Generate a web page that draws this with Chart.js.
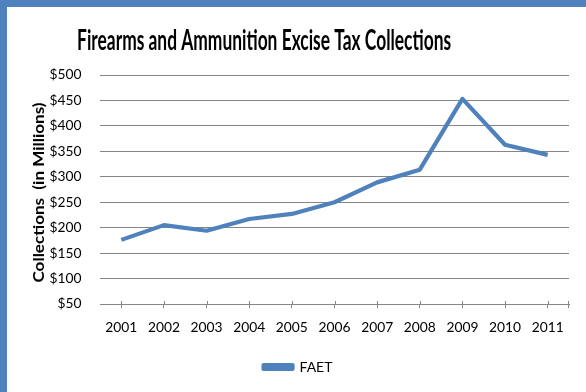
<!DOCTYPE html>
<html>
<head>
<meta charset="utf-8">
<script src="https://cdn.jsdelivr.net/npm/chart.js@4/dist/chart.umd.min.js"></script>
<style>
    html, body { margin: 0; padding: 0; }
    body { width: 586px; height: 392px; background: #4F81BD; position: relative; overflow: hidden; }
    #frame { position: absolute; left: 7px; top: 7px; width: 579px; height: 385px; background: #fff; }
    canvas { display: block; }
</style>
</head>
<body>
<div id="frame"><canvas id="faetChart" width="579" height="385"></canvas></div>
<script>
    var years = ['2001', '2002', '2003', '2004', '2005', '2006', '2007', '2008', '2009', '2010', '2011'];
    var faet = [176, 205, 194, 217, 227, 250, 289, 314, 453, 363, 343];
    var yMin = 50, yMax = 500, yStep = 50;

    var chartTitle = 'Firearms and Ammunition Excise Tax Collections';
    var yTitle = 'Collections  (in Millions)';
    var seriesName = 'FAET';

    var lineBlue = '#4F81BD';
    var gridGrey = '#858585';
    var face = 'Lato, "Open Sans", "Liberation Sans", sans-serif';
    var CAP = 0.717; // cap height / em for Lato

    // bold text sized by cap height, then squeezed along its run to a fixed length
    var fitText = function (ctx, text, capPx, runPx, x, baseY, angle) {
        var size = capPx / CAP;
        ctx.save();
        ctx.font = 'bold ' + size + 'px ' + face;
        var w = ctx.measureText(text).width;
        ctx.translate(x, baseY);
        ctx.rotate(angle);
        ctx.scale(runPx / w, 1);
        ctx.fillStyle = '#000';
        ctx.textAlign = 'center';
        ctx.textBaseline = 'alphabetic';
        ctx.fillText(text, 0, 0);
        ctx.restore();
    };

    var titles = {
        id: 'titles',
        afterDraw: function (chart) {
            var ctx = chart.ctx;
            var area = chart.chartArea;
            fitText(ctx, chartTitle, 20.5, 374, chart.width * 0.444, 43, 0);
            // axis title reads bottom-to-top, baseline on the right
            fitText(ctx, yTitle, 11.3, 180, 37, (area.top + area.bottom) / 2 + 3, -Math.PI / 2);
        }
    };

    // cross tick marks on the category axis (upper half + closing tick)
    var crossTicks = {
        id: 'crossTicks',
        afterDraw: function (chart) {
            var ctx = chart.ctx;
            var xs = chart.scales.x;
            var bottom = chart.chartArea.bottom;
            ctx.save();
            ctx.strokeStyle = gridGrey;
            ctx.lineWidth = 1;
            ctx.beginPath();
            for (var i = 0, l = xs.ticks.length; i < l; ++i) {
                var px = Math.round(xs.getPixelForTick(i)) + 0.5;
                ctx.moveTo(px, bottom - 3);
                ctx.lineTo(px, bottom);
            }
            var endX = Math.round(chart.chartArea.right) - 0.5;
            ctx.moveTo(endX, bottom - 3);
            ctx.lineTo(endX, bottom + 4);
            ctx.stroke();
            ctx.restore();
        }
    };

    new Chart(document.getElementById('faetChart'), {
        type: 'line',
        data: {
            labels: years,
            datasets: [{
                label: seriesName,
                data: faet,
                borderColor: lineBlue,
                backgroundColor: lineBlue,
                borderWidth: 4.2,
                borderJoinStyle: 'round',
                borderCapStyle: 'butt',
                pointRadius: 0,
                pointHoverRadius: 0,
                tension: 0,
                fill: false
            }]
        },
        options: {
            responsive: false,
            animation: false,
            // left padding only re-centres the legend; the y axis box is narrowed to match
            layout: { padding: { top: 68, right: 17, bottom: 8, left: 20 } },
            plugins: {
                title: { display: false },
                tooltip: { enabled: false },
                legend: {
                    position: 'bottom',
                    labels: {
                        boxWidth: 29,
                        boxHeight: 4,
                        color: '#000',
                        font: { family: face, size: 14 }
                    }
                }
            },
            scales: {
                x: {
                    type: 'category',
                    offset: true,
                    afterFit: function (scale) { scale.height = 46; },
                    grid: {
                        display: true,
                        drawOnChartArea: false,
                        drawTicks: true,
                        tickLength: 4,
                        offset: false,
                        color: gridGrey
                    },
                    border: { display: true, color: gridGrey },
                    ticks: {
                        color: '#000',
                        padding: 11,
                        maxRotation: 0,
                        font: { family: face, size: 13.8 }
                    }
                },
                y: {
                    min: yMin,
                    max: yMax,
                    afterFit: function (scale) { scale.width = 73; },
                    grid: { color: gridGrey, drawTicks: false },
                    border: { display: false },
                    ticks: {
                        stepSize: yStep,
                        padding: 18.5,
                        color: '#000',
                        font: { family: face, size: 13.8 },
                        callback: function (v) { return '$' + v; }
                    }
                }
            }
        },
        plugins: [titles, crossTicks]
    });
</script>
</body>
</html>
